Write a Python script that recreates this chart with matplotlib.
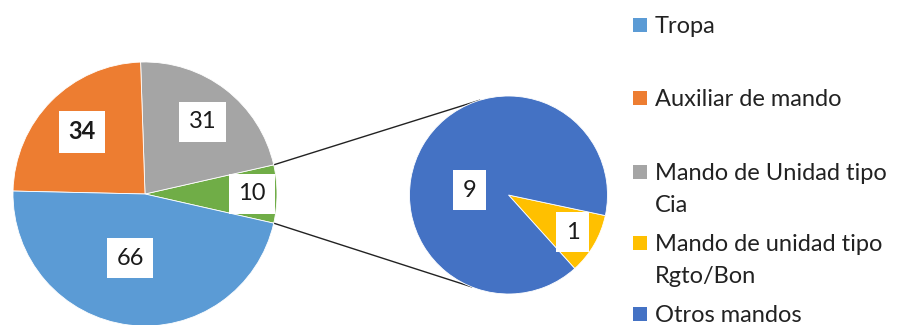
import numpy as np
import matplotlib
matplotlib.use("Agg")
import matplotlib.pyplot as plt
from matplotlib.patches import Rectangle

plt.rcParams['font.family'] = ['Lato', 'DejaVu Sans']

# data
main_labels = ["Otros", "Mando de Unidad tipo Cia", "Auxiliar de mando", "Tropa"]
main_values = [10, 31, 34, 66]
main_colors = ["#70AD47", "#A5A5A5", "#ED7D31", "#5B9BD5"]

sub_labels = ["Mando de unidad tipo Rgto/Bon", "Otros mandos"]
sub_values = [1, 9]
sub_colors = ["#FFC000", "#4472C4"]

legend_labels = ["Tropa", "Auxiliar de mando", "Mando de Unidad tipo\nCia",
                 "Mando de unidad tipo\nRgto/Bon", "Otros mandos"]
legend_colors = ["#5B9BD5", "#ED7D31", "#A5A5A5", "#FFC000", "#4472C4"]

W, H = 899, 325
fig = plt.figure(figsize=(W / 100, H / 100), dpi=100)
ax = fig.add_axes([0, 0, 1, 1])

c1, r1 = (145, 131), 132
c2, r2 = (508.5, 130), 99

start1 = -main_values[0] / sum(main_values) * 180
w1, _ = ax.pie(main_values, colors=main_colors, center=c1, radius=r1,
               startangle=start1, counterclock=True, frame=True,
               wedgeprops=dict(edgecolor='white', linewidth=0.6))
w2, _ = ax.pie(sub_values, colors=sub_colors, center=c2, radius=r2,
               startangle=-48, counterclock=True, frame=True,
               wedgeprops=dict(edgecolor='white', linewidth=0.6))
ax.set_xlim(0, W)
ax.set_ylim(0, H)
ax.set_aspect('equal')
ax.axis('off')

box = dict(boxstyle='square,pad=0.4', facecolor='white', edgecolor='none')

def put_labels(wedges, values, center, radius, fracs, offs, bold=()):
    for i, (w, v) in enumerate(zip(wedges, values)):
        mid = np.deg2rad((w.theta1 + w.theta2) / 2 + offs[i])
        x = center[0] + fracs[i] * radius * np.cos(mid)
        y = center[1] + fracs[i] * radius * np.sin(mid)
        ax.text(x, y, str(v), ha='center', va='center', fontsize=17,
                color='#1a1a1a', bbox=box,
                fontweight='bold' if i in bold else 'normal')

put_labels(w1, main_values, c1, r1, [0.81, 0.70, 0.67, 0.50], [0, -1, 0, -6], bold=(2,))
put_labels(w2, sub_values, c2, r2, [0.75, 0.40], [0, 23])

# connector lines
g = w1[0]
for a1, a2 in [(g.theta2, 107), (g.theta1, 248)]:
    p1 = (c1[0] + r1 * np.cos(np.deg2rad(a1)), c1[1] + r1 * np.sin(np.deg2rad(a1)))
    p2 = (c2[0] + r2 * np.cos(np.deg2rad(a2)), c2[1] + r2 * np.sin(np.deg2rad(a2)))
    ax.plot([p1[0], p2[0]], [p1[1], p2[1]], color='#222222', lw=1.0, zorder=0)

# legend
rows = [25, 98, 172, 243, 314]
for lab, col, yy in zip(legend_labels, legend_colors, rows):
    ax.add_patch(Rectangle((633, H - yy - 7), 14, 14, facecolor=col, edgecolor='none'))
    for k, line in enumerate(lab.split("\n")):
        ax.text(655, H - (yy + 8 + 32 * k), line, ha='left', va='baseline',
                fontsize=17, color='#222222')

fig.savefig("out.png", dpi=100)
